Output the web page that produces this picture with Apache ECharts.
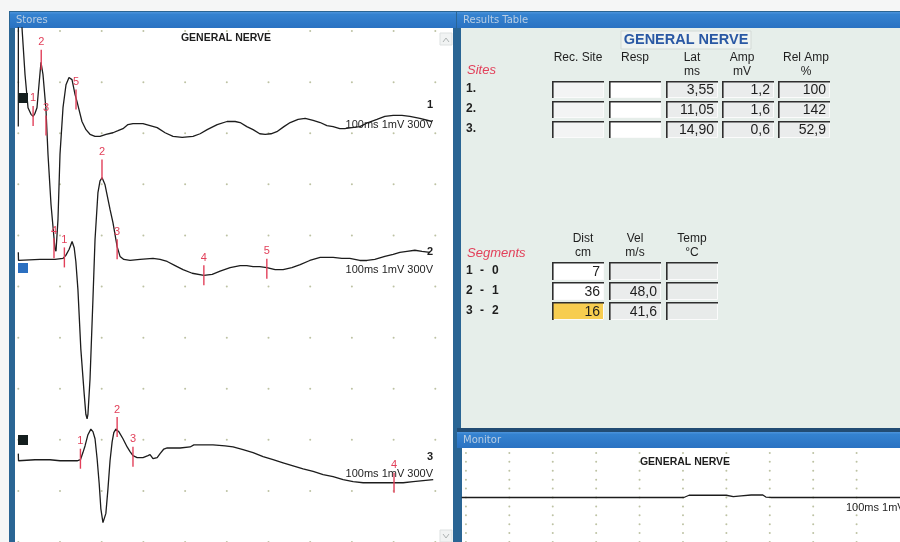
<!DOCTYPE html>
<html>
<head>
<meta charset="utf-8">
<title>GENERAL NERVE</title>
<script src="https://cdn.jsdelivr.net/npm/echarts@6.0.0/dist/echarts.min.js"></script>
<style>
html, body { margin: 0; padding: 0; background: #f5f6f6; }
#chart { width: 900px; height: 542px; }
</style>
</head>
<body>
<div id="chart"></div>
<script>
// ---- Stored responses: time in ms, deflection in mV (up = negative polarity) from each trace's own baseline ----
const trace1Time = [0, 0.02, 0.65, 0.89, 1.61, 2.33, 3.05, 3.55, 4.0, 4.48, 4.96, 5.44, 5.92, 6.64, 7.12, 7.84, 8.8, 9.04, 9.52, 10.0, 10.72, 11.44, 12.16, 12.88, 13.6, 14.08, 15.27, 16.23, 17.19, 18.39, 19.59, 21.03, 22.71, 23.91, 25.1, 26.3, 27.5, 28.7, 29.9, 31.6, 33.3, 35.2, 37.1, 39.3, 41.9, 43.6, 45.3, 47.7, 50.05, 52.0, 53.2, 54.8, 56.3, 57.9, 59.2, 60.6, 62.0, 63.7, 65.2, 67.1, 68.8, 70.7, 72.4, 74.0, 75.5, 77.1, 78.3, 80.0, 81.9, 83.9, 86.0, 87.9, 89.9, 92.0, 93.9, 96.3, 99.2];
const trace1Value = [-0.06, 2.2, 2.2, 1.87, 0.96, 0.31, 0.18, 0.14, 0.2, 0.31, 0.76, 1.2, 0.96, 0.27, -0.6, -1.58, -2.46, -2.5, -1.87, -0.6, 0.31, 0.76, 0.9, 0.86, 0.57, 0.43, 0.04, -0.12, -0.21, -0.25, -0.25, -0.21, -0.18, -0.14, -0.1, -0.02, 0, 0, 0, -0.04, -0.08, -0.18, -0.25, -0.27, -0.25, -0.2, -0.12, -0.02, 0.04, 0.04, 0.02, -0.06, -0.12, -0.2, -0.21, -0.2, -0.16, -0.06, 0.02, 0.08, 0.1, 0.06, 0.02, -0.04, -0.06, -0.1, -0.1, -0.08, -0.06, 0.02, 0.08, 0.14, 0.16, 0.16, 0.14, 0.1, 0.04];

const trace2Time = [0, 0.05, 0.41, 5.2, 8.8, 10.7, 11.4, 12.2, 12.9, 13.4, 13.8, 14.3, 15.0, 15.8, 16.2, 16.5, 16.7, 17.2, 17.9, 18.4, 19.1, 19.6, 20.1, 20.8, 22.0, 22.7, 23.7, 24.4, 25.3, 26.8, 29.2, 32.3, 34.0, 35.7, 37.6, 39.5, 41.7, 44.5, 46.5, 48.4, 50.8, 53.2, 54.8, 56.3, 57.9, 59.6, 61.6, 63.5, 65.6, 67.6, 69.9, 72.4, 75.5, 77.6, 79.5, 81.9, 83.6, 85.5, 87.9, 89.9, 91.5, 93.2, 95.1, 96.8, 98.7];
const trace2Value = [0.14, -0.02, 0, 0, 0, 0.02, 0.08, 0.2, 0.35, 0.23, -0.04, -0.59, -1.76, -2.63, -3.03, -3.12, -3.03, -2.34, -0.78, 0.39, 1.31, 1.54, 1.6, 1.46, 0.98, 0.72, 0.25, 0.06, 0, -0.02, 0, 0.02, 0, -0.04, -0.12, -0.2, -0.27, -0.31, -0.29, -0.23, -0.16, -0.12, -0.12, -0.14, -0.14, -0.16, -0.2, -0.2, -0.16, -0.1, -0.02, 0.04, 0.04, 0.02, 0.02, -0.02, -0.02, 0, 0.06, 0.1, 0.14, 0.16, 0.18, 0.16, 0.14];

const trace3Time = [0, 0.05, 0.41, 4.0, 7.6, 10.0, 12.4, 14.1, 14.9, 15.5, 16.0, 16.7, 17.4, 17.9, 18.4, 18.9, 19.4, 19.8, 20.3, 20.6, 21.0, 21.5, 22.0, 22.5, 22.9, 23.4, 24.1, 25.1, 26.1, 26.8, 27.5, 28.5, 29.9, 31.1, 31.6, 32.3, 33.3, 34.0, 34.9, 35.7, 37.1, 38.8, 41.2, 42.1, 43.6, 46.7, 49.6, 51.5, 53.9, 56.3, 58.7, 61.1, 63.5, 65.9, 68.3, 70.7, 73.1, 75.5, 77.9, 80.3, 82.7, 85.1, 87.5, 89.9, 92.3, 94.7, 97.1, 99.5];
const trace3Value = [0.12, -0.02, 0, 0, 0, -0.02, -0.02, -0.02, 0, 0.14, 0.27, 0.49, 0.6, 0.55, 0.41, 0.02, -0.47, -0.96, -1.23, -1.25, -1.05, -0.57, -0.02, 0.35, 0.53, 0.6, 0.55, 0.41, 0.25, 0.16, 0.08, 0.04, 0.04, 0.08, 0.1, 0.02, 0.04, 0.12, 0.21, 0.23, 0.23, 0.23, 0.25, 0.29, 0.29, 0.29, 0.27, 0.25, 0.2, 0.14, 0.06, 0, -0.06, -0.12, -0.18, -0.23, -0.29, -0.33, -0.39, -0.43, -0.45, -0.45, -0.45, -0.45, -0.45, -0.43, -0.41, -0.39];

// Cursor marks on each trace: time (ms) and the level (mV) they sit at; the first one is the onset latency
const trace1MarkerTime = [3.55, 5.5, 6.64, 8.56, 13.84];
const trace1MarkerLevel = [0.15, 1.25, -0.04, -2.44, 0.47];
const trace2MarkerTime = [11.05, 20.07, 23.7, 44.5, 59.6];
const trace2MarkerLevel = [0.04, 1.76, 0.2, -0.31, -0.18];
const trace3MarkerTime = [14.9, 23.7, 27.5, 90.1];
const trace3MarkerLevel = [0.02, 0.64, 0.06, -0.45];

// Live monitor sweep
const monitorTime = [-1, 20, 50.2, 51.4, 60, 61.6, 63.4, 65.7, 68.4, 69.1, 70.2, 85, 100];
const monitorValue = [0, 0, 0, 0.25, 0.25, 0.1, 0.18, 0.28, 0.28, 0.05, 0, 0, 0];

// Results table
const studyTitle = 'GENERAL NERVE';
const sweepLabel = '100ms 1mV 300V';
const siteNames = ['1.', '2.', '3.'];
const siteAmplitude = ['1,2', '1,6', '0,6'];
const siteRelAmp = ['100', '142', '52,9'];
const siteHeaders = [['Rec. Site', ''], ['Resp', ''], ['Lat', 'ms'], ['Amp', 'mV'], ['Rel Amp', '%']];
const segmentFrom = ['1', '2', '3'];
const segmentTo = ['0', '1', '2'];
const segmentDistCm = [7, 36, 16];
const segmentHeaders = [['Dist', 'cm'], ['Vel', 'm/s'], ['Temp', '°C']];

// ---------------------------------------------------------------------------
const FONT = "'Liberation Sans', Arial, sans-serif";
const RED = '#e2405a';
const DOT = '#adb38c';
const chart = echarts.init(document.getElementById('chart'), null, { width: 900, height: 542 });

const traceList = [
  { time: trace1Time, value: trace1Value, mt: trace1MarkerTime, ml: trace1MarkerLevel },
  { time: trace2Time, value: trace2Value, mt: trace2MarkerTime, ml: trace2MarkerLevel },
  { time: trace3Time, value: trace3Value, mt: trace3MarkerTime, ml: trace3MarkerLevel }
];
// vertical position of each trace's zero line on the stores screen (divisions from top)
const baselineShift = [-1.81, -4.47, -8.39];

const latency = traceList.map(t => t.mt[0]);
const comma = s => s.replace('.', ',');
const latText = latency.map(l => comma(l.toFixed(2)));
const velText = segmentDistCm.map((d, i) => i === 0 ? '' : comma((d * 10 / (latency[i] - latency[i - 1])).toFixed(1)));

const series = [];

// dotted division grid, stores screen
const storesDots = [];
for (let i = 0; i <= 10; i++) for (let j = 0; j <= 10; j++) storesDots.push([i * 10, -j]);
series.push({ type: 'scatter', xAxisIndex: 0, yAxisIndex: 0, data: storesDots, symbolSize: 2,
  itemStyle: { color: DOT }, silent: true, z: 1 });

traceList.forEach((tr, k) => {
  series.push({ type: 'line', xAxisIndex: 0, yAxisIndex: 0, silent: true, z: 3,
    data: tr.time.map((t, i) => [t, baselineShift[k] + tr.value[i]]),
    symbol: 'none', clip: true,
    lineStyle: { color: '#1c1c1c', width: 1.3 } });
});

const markerData = [];
traceList.forEach((tr, k) => tr.mt.forEach((t, i) => markerData.push([t, baselineShift[k] + tr.ml[i], i + 1])));
series.push({ type: 'custom', xAxisIndex: 0, yAxisIndex: 0, silent: true, z: 4, data: markerData,
  renderItem: (params, api) => {
    const p = api.coord([api.value(0), api.value(1)]);
    return { type: 'group', children: [
      { type: 'line', shape: { x1: p[0], y1: p[1] - 10, x2: p[0], y2: p[1] + 10 },
        style: { stroke: RED, lineWidth: 1.4 } },
      { type: 'text', style: { text: String(api.value(2)), x: p[0], y: p[1] - 12,
        align: 'center', verticalAlign: 'bottom', fill: RED, font: '11px ' + FONT } }
    ] };
  } });

// monitor screen
const monDots = [];
for (let i = 0; i <= 9; i++) for (let j = -5; j <= 5; j++) monDots.push([i * 10, j]);
series.push({ type: 'scatter', xAxisIndex: 1, yAxisIndex: 1, data: monDots, symbolSize: 2,
  itemStyle: { color: DOT }, silent: true, z: 1 });
series.push({ type: 'line', xAxisIndex: 1, yAxisIndex: 1, silent: true, z: 3, symbol: 'none',
  data: monitorTime.map((t, i) => [t, monitorValue[i]]),
  lineStyle: { color: '#1c1c1c', width: 1.3 } });

// ---- window chrome and tables ----
const els = [];
const rect = (x, y, w, h, fill, z = 0, stroke) => els.push({ type: 'rect', z, shape: { x, y, width: w, height: h },
  style: { fill, stroke: stroke || null, lineWidth: 1 } });
const text = (x, y, str, o = {}) => els.push({ type: 'text', z: o.z || 6, style: {
  text: str, x, y, fill: o.fill || '#1e1e1e', align: o.align || 'left', verticalAlign: 'middle',
  font: (o.style || '') + ' ' + (o.weight || 'normal') + ' ' + (o.size || 12) + 'px ' + (o.family || FONT) } });
const barFill = new echarts.graphic.LinearGradient(0, 0, 0, 1, [
  { offset: 0, color: '#4d94dc' }, { offset: 0.15, color: '#3482d0' }, { offset: 1, color: '#2a72c2' }]);

rect(0, 0, 900, 542, '#f5f6f6');
rect(9, 11, 448, 531, '#2a6594');
rect(456, 11, 444, 531, '#2a6594');
rect(10, 12, 446, 16, barFill);
rect(457, 12, 443, 16, barFill);
rect(15, 28, 438, 514, '#ffffff');
rect(461, 28, 439, 400, '#e6eeea');
rect(457, 428, 443, 4, '#224c74');
rect(457, 432, 443, 16, barFill);
rect(462, 448, 438, 94, '#ffffff');
text(16, 20.5, 'Stores', { fill: '#b8cde3', size: 10, family: "'DejaVu Sans', sans-serif" });
text(463, 20.5, 'Results Table', { fill: '#b8cde3', size: 10, family: "'DejaVu Sans', sans-serif" });
text(463, 440.5, 'Monitor', { fill: '#b8cde3', size: 10, family: "'DejaVu Sans', sans-serif" });

// scroll arrows
rect(440, 33, 12, 12, '#f1f3f3', 1, '#dde1e1');
els.push({ type: 'polyline', z: 2, shape: { points: [[443, 42], [446, 38], [449, 42]] }, style: { stroke: '#aeb3b3', lineWidth: 1, fill: null } });
rect(440, 530, 12, 12, '#f1f3f3', 1, '#dde1e1');
els.push({ type: 'polyline', z: 2, shape: { points: [[443, 534], [446, 538], [449, 534]] }, style: { stroke: '#aeb3b3', lineWidth: 1, fill: null } });

// stores screen captions
text(226, 38, studyTitle, { weight: 'bold', size: 10.5, align: 'center' });
const squareColors = ['#141e1e', '#2b6fc0', '#141e1e'];
const squareY = [93, 263, 435];
const numberY = [105, 252, 457];
const captionY = [125, 270, 474];
for (let k = 0; k < 3; k++) {
  rect(18, squareY[k], 10, 10, squareColors[k], 5);
  text(433, numberY[k], String(k + 1), { align: 'right', weight: 'bold', size: 11 });
  text(433, captionY[k], sweepLabel, { align: 'right', size: 11 });
}

// monitor captions
text(685, 462, studyTitle, { weight: 'bold', size: 10.5, align: 'center' });
text(846, 508, sweepLabel, { size: 11 });

// results header
rect(621, 31, 130, 18, '#eff3f1', 1, '#d3dad6');
text(686, 40, studyTitle, { weight: 'bold', size: 14.5, fill: '#2a58a4', align: 'center' });

function field(x, y, w, h, fill, str) {
  rect(x, y, w, h, fill, 2);
  els.push({ type: 'polyline', z: 3, shape: { points: [[x + 0.8, y + h], [x + 0.8, y + 0.8], [x + w, y + 0.8]] },
    style: { stroke: '#2e2e2e', lineWidth: 1.6, fill: null } });
  els.push({ type: 'polyline', z: 3, shape: { points: [[x + 2, y + h - 0.5], [x + w - 0.5, y + h - 0.5], [x + w - 0.5, y + 2]] },
    style: { stroke: '#fbfbfb', lineWidth: 1, fill: null } });
  if (str) text(x + w - 4, y + h / 2 + 1, str, { align: 'right', size: 14 });
}

const siteColX = [552, 609, 666, 722, 778];
const siteHeadX = [578, 635, 692, 742, 806];
const siteRowY = [81, 101, 121];
siteHeaders.forEach((hd, c) => { text(siteHeadX[c], 58, hd[0], { align: 'center' }); if (hd[1]) text(siteHeadX[c], 72, hd[1], { align: 'center' }); });
text(467, 70, 'Sites', { fill: RED, style: 'italic', size: 13 });
const siteFill = ['#f3f4f4', '#ffffff', '#eaecec', '#eaecec', '#eaecec'];
siteNames.forEach((nm, r) => {
  text(466, siteRowY[r] + 8, nm, { weight: 'bold', size: 12 });
  const vals = ['', '', latText[r], siteAmplitude[r], siteRelAmp[r]];
  siteColX.forEach((x, c) => field(x, siteRowY[r], 52, 17, siteFill[c], vals[c]));
});

const segColX = [552, 609, 666];
const segHeadX = [583, 635, 692];
const segRowY = [262, 282, 302];
segmentHeaders.forEach((hd, c) => { text(segHeadX[c], 239, hd[0], { align: 'center' }); text(segHeadX[c], 253, hd[1], { align: 'center' }); });
text(467, 253, 'Segments', { fill: RED, style: 'italic', size: 13 });
segmentFrom.forEach((a, r) => {
  const cy = segRowY[r] + 9;
  text(466, cy, a, { weight: 'bold', size: 12 });
  text(480, cy, '-', { weight: 'bold', size: 12 });
  text(492, cy, segmentTo[r], { weight: 'bold', size: 12 });
  field(segColX[0], segRowY[r], 52, 18, r === 2 ? '#f7cd50' : '#ffffff', String(segmentDistCm[r]));
  field(segColX[1], segRowY[r], 52, 18, '#eaecec', velText[r]);
  field(segColX[2], segRowY[r], 52, 18, '#e8ebea', '');
});

chart.setOption({
  animation: false,
  grid: [
    { left: 18.3, top: 28, width: 417, height: 515.5 },
    { left: 461.6, top: 449, width: 444.4, height: 94 }
  ],
  xAxis: [
    { type: 'value', gridIndex: 0, min: 0, max: 100, show: false },
    { type: 'value', gridIndex: 1, min: -1, max: 100, show: false }
  ],
  yAxis: [
    { type: 'value', gridIndex: 0, min: -10, max: 0.06, show: false },
    { type: 'value', gridIndex: 1, min: -5, max: 5.444, show: false }
  ],
  graphic: { elements: els },
  series
});
</script>
</body>
</html>
